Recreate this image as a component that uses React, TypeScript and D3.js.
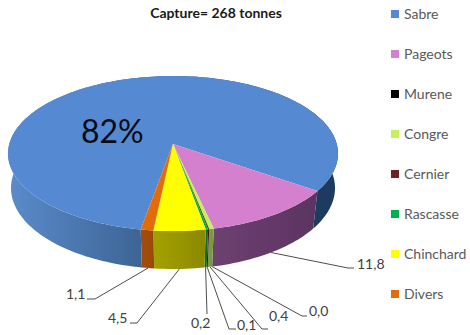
import React from "react";
import * as d3 from "d3";

// Catch composition by species, in percent of the 268 t total
const species = ["Sabre", "Pageots", "Murene", "Congre", "Cernier", "Rascasse", "Chinchard", "Divers"];
const shares = [82, 11.8, 0.0, 0.4, 0.1, 0.2, 4.5, 1.1];
const topColors = ["#558ad2", "#d580ce", "#000000", "#c4f25a", "#6b2222", "#00b050", "#ffff00", "#e36c0a"];
const sideColors = [
  ["#5b8bcb", "#3d6596", "#1d3a5f"],
  ["#6b4270", "#65396a", "#5a3560"],
  ["#000000", "#000000", "#000000"],
  ["#7f9a3f", "#7a9a3c", "#7a9a3c"],
  ["#4a1616", "#4a1616", "#4a1616"],
  ["#0b6a30", "#0b6a30", "#0b6a30"],
  ["#a3a100", "#989600", "#8a8800"],
  ["#a04c0a", "#a04c0a", "#98480a"],
];

// Leader lines: elbow, end of the short horizontal run, label anchor
const leaders = [
  { i: 1, elbow: [348, 268], end: [354, 268], text: [357, 269] },
  { i: 2, elbow: [302, 316], end: [307, 316], text: [309, 316] },
  { i: 3, elbow: [262, 329], end: [268, 329], text: [269, 321] },
  { i: 4, elbow: [229, 329], end: [236, 329], text: [237, 330] },
  { i: 5, elbow: [207, 314], end: [207, 314], text: [191, 328] },
  { i: 6, elbow: [137, 323], end: [130, 323], text: [108, 323] },
  { i: 7, elbow: [95, 299], end: [87, 299], text: [66, 299] },
];

const rad = Math.PI / 180;
const topDisk = { cx: 173, cy: 153.5, rx: 165, ry: 77.5, b: -0.1226 };
const baseDisk = { cx: 173, cy: 188, rx: 162, ry: 81, b: -0.1 };
type Disk = typeof topDisk;

// Perspective view of the unit disk: the centre slides toward the far rim
function project(angle: number, d: Disk, r = 1): [number, number] {
  const X = r * Math.sin(angle);
  const Y = -r * Math.cos(angle);
  const den = 1 + d.b * Y;
  const u = (X * Math.sqrt(1 - d.b * d.b)) / den;
  const v = (Y + d.b) / den;
  return [d.cx + d.rx * u, d.cy + d.ry * v];
}

function rim(a0: number, a1: number, d: Disk): [number, number][] {
  const n = Math.max(2, Math.ceil((a1 - a0) / (1.5 * rad)));
  return d3.range(n + 1).map((i) => project(a0 + ((a1 - a0) * i) / n, d));
}

const pieLayout = d3
  .pie<number>()
  .sort(null)
  .startAngle(190 * rad)
  .endAngle(550 * rad);
const arcs = pieLayout(shares);
const path = d3.line<[number, number]>();
const gradX = d3.scaleLinear().domain([0, 1]).range([8, 338]);
const fontFamily = "Lato, 'Open Sans', sans-serif";

export default function App() {
  const centre = project(0, topDisk, 0);
  return (
    <svg width={470} height={335} style={{ position: "absolute", left: 0, top: 0, background: "#fff" }}>
      <defs>
        {arcs.map((a, i) => {
          const pts = rim(a.startAngle, a.endAngle, topDisk);
          const xs = pts.map((p) => p[0]);
          const lo = i === 0 ? gradX(0) : Math.min(...xs);
          const hi = i === 0 ? gradX(1) : Math.max(...xs);
          return (
            <linearGradient key={i} id={`side${i}`} gradientUnits="userSpaceOnUse" x1={lo} x2={hi === lo ? lo + 1 : hi} y1={0} y2={0}>
              <stop offset="0" stopColor={sideColors[i][0]} />
              <stop offset={i === 0 ? "0.4" : "0.5"} stopColor={sideColors[i][1]} />
              <stop offset={i === 0 ? "0.94" : "1"} stopColor={sideColors[i][2]} />
            </linearGradient>
          );
        })}
      </defs>

      <text x={216} y={18} textAnchor="middle" fontFamily={fontFamily} fontWeight={700} fontSize={14} fill="#1a1a1a">
        Capture= 268 tonnes
      </text>

      {arcs.map((a, i) => {
        const band = [...rim(a.startAngle, a.endAngle, topDisk), ...rim(a.startAngle, a.endAngle, baseDisk).reverse()];
        return <path key={i} d={path(band) + "Z"} fill={`url(#side${i})`} />;
      })}
      {arcs.map((a, i) => (
        <path key={i} d={path([centre, ...rim(a.startAngle, a.endAngle, topDisk)]) + "Z"} fill={topColors[i]} />
      ))}

      {leaders.map((l) => {
        const a = arcs[l.i];
        const start = project((a.startAngle + a.endAngle) / 2, baseDisk);
        return (
          <g key={l.i}>
            <path
              d={path([start, l.elbow as [number, number], l.end as [number, number]]) ?? ""}
              fill="none"
              stroke="#4d4d4d"
              strokeWidth={1}
            />
            <text x={l.text[0]} y={l.text[1]} fontFamily={fontFamily} fontSize={14} fill="#404040">
              {shares[l.i].toFixed(1).replace(".", ",")}
            </text>
          </g>
        );
      })}

      <text x={81} y={143} fontFamily={fontFamily} fontSize={32} fill="#0a0a14">
        82%
      </text>

      {species.map((s, i) => (
        <g key={s} transform={`translate(391,${14 + i * 40})`}>
          <rect x={0} y={-4} width={8} height={8} fill={topColors[i]} />
          <text x={13} y={5} fontFamily={fontFamily} fontSize={14} fill="#595959">
            {s}
          </text>
        </g>
      ))}
    </svg>
  );
}
